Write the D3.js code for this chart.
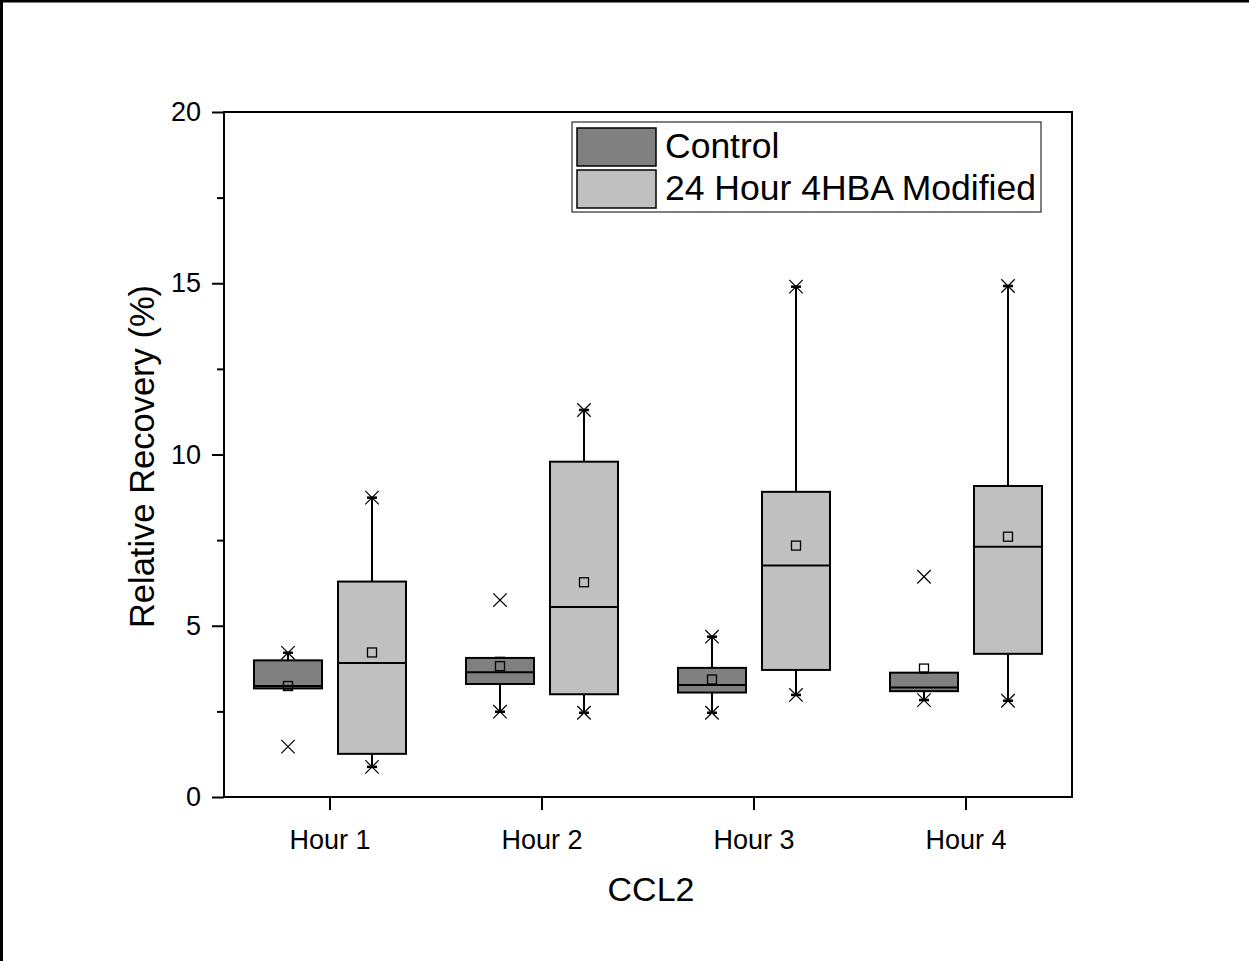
<!DOCTYPE html>
<meta charset="utf-8">
<style>
  body { margin: 0; background: #fff; }
  svg { display: block; font-family: "Liberation Sans", Arial, sans-serif; }
</style>
<svg width="1249" height="961"></svg>
<script src="https://cdn.jsdelivr.net/npm/d3@7"></script>
<script>

// data
var hours = ["Hour 1", "Hour 2", "Hour 3", "Hour 4"];
var groups = ["Control", "24 Hour 4HBA Modified"];
var yTicks = [0, 5, 10, 15, 20];
var yMinor = [2.5, 7.5, 12.5, 17.5];

var controlQ1     = [3.17, 3.30, 3.05, 3.09];
var controlMedian = [3.24, 3.64, 3.27, 3.20];
var controlQ3     = [3.99, 4.06, 3.77, 3.63];
var controlMean   = [3.24, 3.82, 3.43, 3.75];
var controlWhLow  = [3.17, 2.49, 2.46, 2.83];
var controlWhHigh = [4.21, 4.06, 4.68, 3.63];
var controlMin    = [1.47, 2.49, 2.46, 2.83];
var controlMax    = [4.21, 5.75, 4.68, 6.43];

var modQ1     = [1.26, 3.00, 3.71, 4.18];
var modMedian = [3.91, 5.55, 6.76, 7.31];
var modQ3     = [6.29, 9.79, 8.91, 9.08];
var modMean   = [4.22, 6.27, 7.34, 7.60];
var modWhLow  = [0.88, 2.46, 2.98, 2.81];
var modWhHigh = [8.74, 11.30, 14.90, 14.92];
var modMin    = [0.88, 2.46, 2.98, 2.81];
var modMax    = [8.74, 11.30, 14.90, 14.92];

var fills = ["#808080", "#c0c0c0"];

var rows = [];
hours.forEach(function(h, i) {
  rows.push({hour: h, group: groups[0], q1: controlQ1[i], med: controlMedian[i], q3: controlQ3[i],
    mean: controlMean[i], lo: controlWhLow[i], hi: controlWhHigh[i], min: controlMin[i], max: controlMax[i]});
  rows.push({hour: h, group: groups[1], q1: modQ1[i], med: modMedian[i], q3: modQ3[i],
    mean: modMean[i], lo: modWhLow[i], hi: modWhHigh[i], min: modMin[i], max: modMax[i]});
});

var svg = d3.select("svg");
var plotL = 224, plotR = 1072, plotT = 112, plotB = 797;

// outer page frame (runs off the right and bottom edges)
svg.append("rect")
    .attr("x", 1.5).attr("y", 1)
    .attr("width", 1300).attr("height", 1000)
    .attr("fill", "none").attr("stroke", "#000").attr("stroke-width", 3);

var x = d3.scaleBand().domain(hours).range([plotL, plotR]);
var xInner = d3.scaleBand().domain(groups).range([30, 182]).paddingInner(16 / 84);
var y = d3.scaleLinear().domain([0, 20]).range([plotB, plotT]);
var color = d3.scaleOrdinal().domain(groups).range(fills);

// axes
var yAxis = svg.append("g")
    .attr("transform", "translate(" + plotL + ",0)")
    .call(d3.axisLeft(y).tickValues(yTicks).tickSize(12).tickPadding(11));
var yAxisMinor = svg.append("g")
    .attr("transform", "translate(" + plotL + ",0)")
    .call(d3.axisLeft(y).tickValues(yMinor).tickSize(7).tickFormat(""));
var xAxis = svg.append("g")
    .attr("transform", "translate(0," + plotB + ")")
    .call(d3.axisBottom(x).tickSize(13).tickPadding(20));

[yAxis, yAxisMinor, xAxis].forEach(function(g) {
  g.select(".domain").remove();
  g.selectAll("line").attr("stroke", "#000").attr("stroke-width", 2);
  g.selectAll("text").attr("fill", "#000").style("font-size", "27px")
      .style("font-family", "'Liberation Sans', Arial, sans-serif");
});

svg.append("rect")
    .attr("x", plotL).attr("y", plotT)
    .attr("width", plotR - plotL).attr("height", plotB - plotT)
    .attr("fill", "none").attr("stroke", "#000").attr("stroke-width", 2);

// axis titles
svg.append("text")
    .attr("transform", "translate(154," + ((plotT + plotB) / 2 + 2) + ") rotate(-90)")
    .attr("text-anchor", "middle")
    .style("font-size", "34.5px")
    .text("Relative Recovery (%)");

svg.append("text")
    .attr("x", (plotL + plotR) / 2 + 3).attr("y", 901)
    .attr("text-anchor", "middle")
    .style("font-size", "34px")
    .text("CCL2");

// boxes
var box = svg.append("g").selectAll("g")
    .data(rows)
  .enter().append("g")
    .attr("transform", function(d) { return "translate(" + (x(d.hour) + xInner(d.group)) + ",0)"; });

var bw = xInner.bandwidth(), cx = bw / 2;

box.append("line")
    .attr("x1", cx).attr("x2", cx)
    .attr("y1", function(d) { return y(d.hi); })
    .attr("y2", function(d) { return y(d.lo); })
    .attr("stroke", "#000").attr("stroke-width", 2);

box.selectAll(".cap")
    .data(function(d) { return [d.lo, d.hi]; })
  .enter().append("line")
    .attr("class", "cap")
    .attr("x1", cx - 5).attr("x2", cx + 5)
    .attr("y1", function(v) { return y(v); })
    .attr("y2", function(v) { return y(v); })
    .attr("stroke", "#000").attr("stroke-width", 2.5);

box.append("rect")
    .attr("x", 0).attr("width", bw)
    .attr("y", function(d) { return y(d.q3); })
    .attr("height", function(d) { return y(d.q1) - y(d.q3); })
    .attr("fill", function(d) { return color(d.group); })
    .attr("stroke", "#000").attr("stroke-width", 2);

box.append("line")
    .attr("x1", 0).attr("x2", bw)
    .attr("y1", function(d) { return y(d.med); })
    .attr("y2", function(d) { return y(d.med); })
    .attr("stroke", "#000").attr("stroke-width", 2);

// min / max crosses
var cross = d3.symbol().type(d3.symbolX).size(120);
box.selectAll(".ext")
    .data(function(d) { return [d.min, d.max]; })
  .enter().append("path")
    .attr("class", "ext")
    .attr("d", cross)
    .attr("transform", function(v) { return "translate(" + cx + "," + y(v) + ")"; })
    .attr("fill", "none").attr("stroke", "#000").attr("stroke-width", 1.2);

// mean squares
box.append("rect")
    .attr("x", cx - 4.5).attr("width", 9)
    .attr("y", function(d) { return y(d.mean) - 4.5; })
    .attr("height", 9)
    .attr("fill", "none").attr("stroke", "#000").attr("stroke-width", 1.3);

// legend
var legend = svg.append("g");
legend.append("rect")
    .attr("x", 572).attr("y", 122).attr("width", 469).attr("height", 90)
    .attr("fill", "#fff").attr("stroke", "#000").attr("stroke-width", 1);

var item = legend.selectAll(".item")
    .data(groups)
  .enter().append("g")
    .attr("class", "item")
    .attr("transform", function(d, i) { return "translate(577," + (128 + i * 42) + ")"; });

item.append("rect")
    .attr("width", 79).attr("height", 38)
    .attr("fill", function(d) { return color(d); })
    .attr("stroke", "#000").attr("stroke-width", 1.5);

item.append("text")
    .attr("x", 88).attr("y", 30)
    .style("font-size", "35.5px")
    .text(function(d) { return d; });

</script>
